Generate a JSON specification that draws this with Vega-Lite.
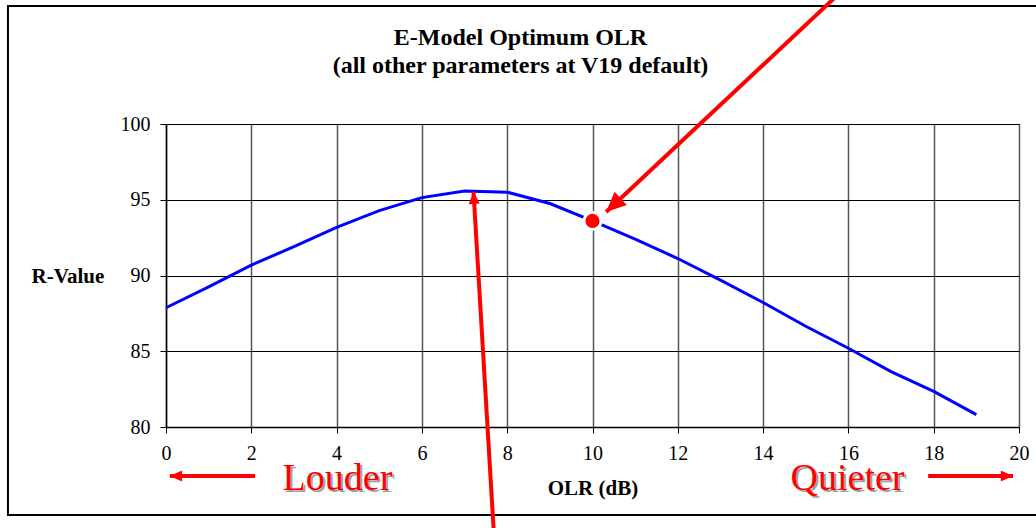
{
  "$schema": "https://vega.github.io/schema/vega-lite/v6.json",
  "width": 853,
  "height": 303,
  "autosize": {"type": "none"},
  "padding": {"left": 166, "top": 124, "right": 17, "bottom": 101},
  "background": "white",
  "title": {
    "text": ["E-Model Optimum OLR", "(all other parameters at V19 default)"],
    "font": "Liberation Serif",
    "fontSize": 24,
    "fontWeight": "bold",
    "color": "black",
    "anchor": "middle",
    "dx": -72,
    "offset": -90,
    "lineHeight": 28
  },
  "config": {
    "view": {"stroke": "#444", "strokeWidth": 1},
    "axis": {
      "labelFont": "Liberation Serif",
      "labelFontSize": 20,
      "labelColor": "black",
      "labelFlush": false,
      "titleFont": "Liberation Serif",
      "titleFontSize": 21,
      "titleFontWeight": "bold",
      "titleColor": "black",
      "domainColor": "black",
      "domainWidth": 1.5,
      "tickColor": "black",
      "tickSize": 6,
      "labelPadding": 10,
      "gridOpacity": 1
    }
  },
  "datasets": {
    "curve": [
      {"x": 0, "y": 87.87}, {"x": 1, "y": 89.25}, {"x": 2, "y": 90.69}, {"x": 3, "y": 91.9},
      {"x": 4, "y": 93.18}, {"x": 5, "y": 94.28}, {"x": 6, "y": 95.14}, {"x": 7, "y": 95.58},
      {"x": 8, "y": 95.5}, {"x": 9, "y": 94.75}, {"x": 10, "y": 93.6}, {"x": 11, "y": 92.4},
      {"x": 12, "y": 91.12}, {"x": 13, "y": 89.7}, {"x": 14, "y": 88.22}, {"x": 15, "y": 86.65},
      {"x": 16, "y": 85.2}, {"x": 17, "y": 83.66}, {"x": 18, "y": 82.35}, {"x": 19, "y": 80.82}
    ],
    "arrows": [
      {"name": "top", "x": 15.87, "y": 108.84, "x2": 10.32, "y2": 94.19},
      {"name": "bottom", "x": 7.69, "y": 72.87, "x2": 7.21, "y2": 95.53},
      {"name": "louder", "x": 2.09, "y": 76.77, "x2": 0.09, "y2": 76.77},
      {"name": "quieter", "x": 17.87, "y": 76.77, "x2": 19.86, "y2": 76.77}
    ],
    "heads": [
      {"name": "top", "x": 10.32, "y": 94.19},
      {"name": "bottom", "x": 7.21, "y": 95.53},
      {"name": "louder", "x": 0.09, "y": 76.77},
      {"name": "quieter", "x": 19.86, "y": 76.77}
    ],
    "labels": [
      {"label": "Louder", "x": 4.02, "y": 75.84},
      {"label": "Quieter", "x": 15.98, "y": 75.84}
    ],
    "frame": [
      {"x": -3.705, "y": 107.79, "x2": 20.6, "y2": 74.19}
    ]
  },
  "encoding": {
    "x": {
      "field": "x",
      "type": "quantitative",
      "scale": {"domain": [0, 20], "nice": false, "zero": false},
      "axis": {
        "title": "OLR (dB)",
        "values": [0, 2, 4, 6, 8, 10, 12, 14, 16, 18, 20],
        "gridColor": "#555",
        "gridWidth": 1.5,
        "titlePadding": 14
      }
    },
    "y": {
      "field": "y",
      "type": "quantitative",
      "scale": {"domain": [80, 100], "nice": false, "zero": false},
      "axis": {
        "title": "R-Value",
        "values": [80, 85, 90, 95, 100],
        "gridColor": "black",
        "gridWidth": 1,
        "titleAngle": 0,
        "titleAlign": "left",
        "titleBaseline": "middle",
        "titleX": -135,
        "titleY": 152
      }
    }
  },
  "layer": [
    {
      "data": {"name": "frame"},
      "mark": {"type": "rect", "fill": "transparent", "stroke": "black", "strokeWidth": 2, "clip": false},
      "encoding": {"x2": {"field": "x2"}, "y2": {"field": "y2"}}
    },
    {
      "data": {"name": "curve"},
      "mark": {"type": "line", "color": "#0000FF", "strokeWidth": 3},
      "encoding": {}
    },
    {
      "data": {"name": "curve"},
      "transform": [{"filter": "datum.x == 10"}],
      "mark": {"type": "point", "filled": true, "color": "white", "opacity": 1, "size": 400},
      "encoding": {}
    },
    {
      "data": {"name": "curve"},
      "transform": [{"filter": "datum.x == 10"}],
      "mark": {"type": "point", "filled": true, "color": "#FF0000", "opacity": 1, "size": 201},
      "encoding": {}
    },
    {
      "data": {"name": "arrows"},
      "mark": {"type": "rule", "color": "#FF0000", "strokeWidth": 4, "clip": false},
      "encoding": {"x2": {"field": "x2"}, "y2": {"field": "y2"}}
    },
    {
      "data": {"name": "heads"},
      "transform": [{"filter": "datum.name == 'top'"}],
      "mark": {"type": "point", "shape": "M0,0L0.45,1L-0.45,1Z", "filled": true, "color": "#FF0000", "opacity": 1, "size": 1600, "angle": 226.8, "clip": false},
      "encoding": {}
    },
    {
      "data": {"name": "heads"},
      "transform": [{"filter": "datum.name == 'bottom'"}],
      "mark": {"type": "point", "shape": "M0,0L0.45,1L-0.45,1Z", "filled": true, "color": "#FF0000", "opacity": 1, "size": 600, "angle": 356.5, "clip": false},
      "encoding": {}
    },
    {
      "data": {"name": "heads"},
      "transform": [{"filter": "datum.name == 'louder'"}],
      "mark": {"type": "point", "shape": "M0,0L0.45,1L-0.45,1Z", "filled": true, "color": "#FF0000", "opacity": 1, "size": 600, "angle": 270, "clip": false},
      "encoding": {}
    },
    {
      "data": {"name": "heads"},
      "transform": [{"filter": "datum.name == 'quieter'"}],
      "mark": {"type": "point", "shape": "M0,0L0.45,1L-0.45,1Z", "filled": true, "color": "#FF0000", "opacity": 1, "size": 600, "angle": 90, "clip": false},
      "encoding": {}
    },
    {
      "data": {"name": "labels"},
      "mark": {"type": "text", "font": "Liberation Serif", "fontSize": 38, "color": "#A0A0A0", "align": "center", "baseline": "alphabetic", "dx": 2, "dy": 2, "clip": false},
      "encoding": {"text": {"field": "label"}}
    },
    {
      "data": {"name": "labels"},
      "mark": {"type": "text", "font": "Liberation Serif", "fontSize": 38, "color": "#FF0000", "align": "center", "baseline": "alphabetic", "clip": false},
      "encoding": {"text": {"field": "label"}}
    }
  ]
}
